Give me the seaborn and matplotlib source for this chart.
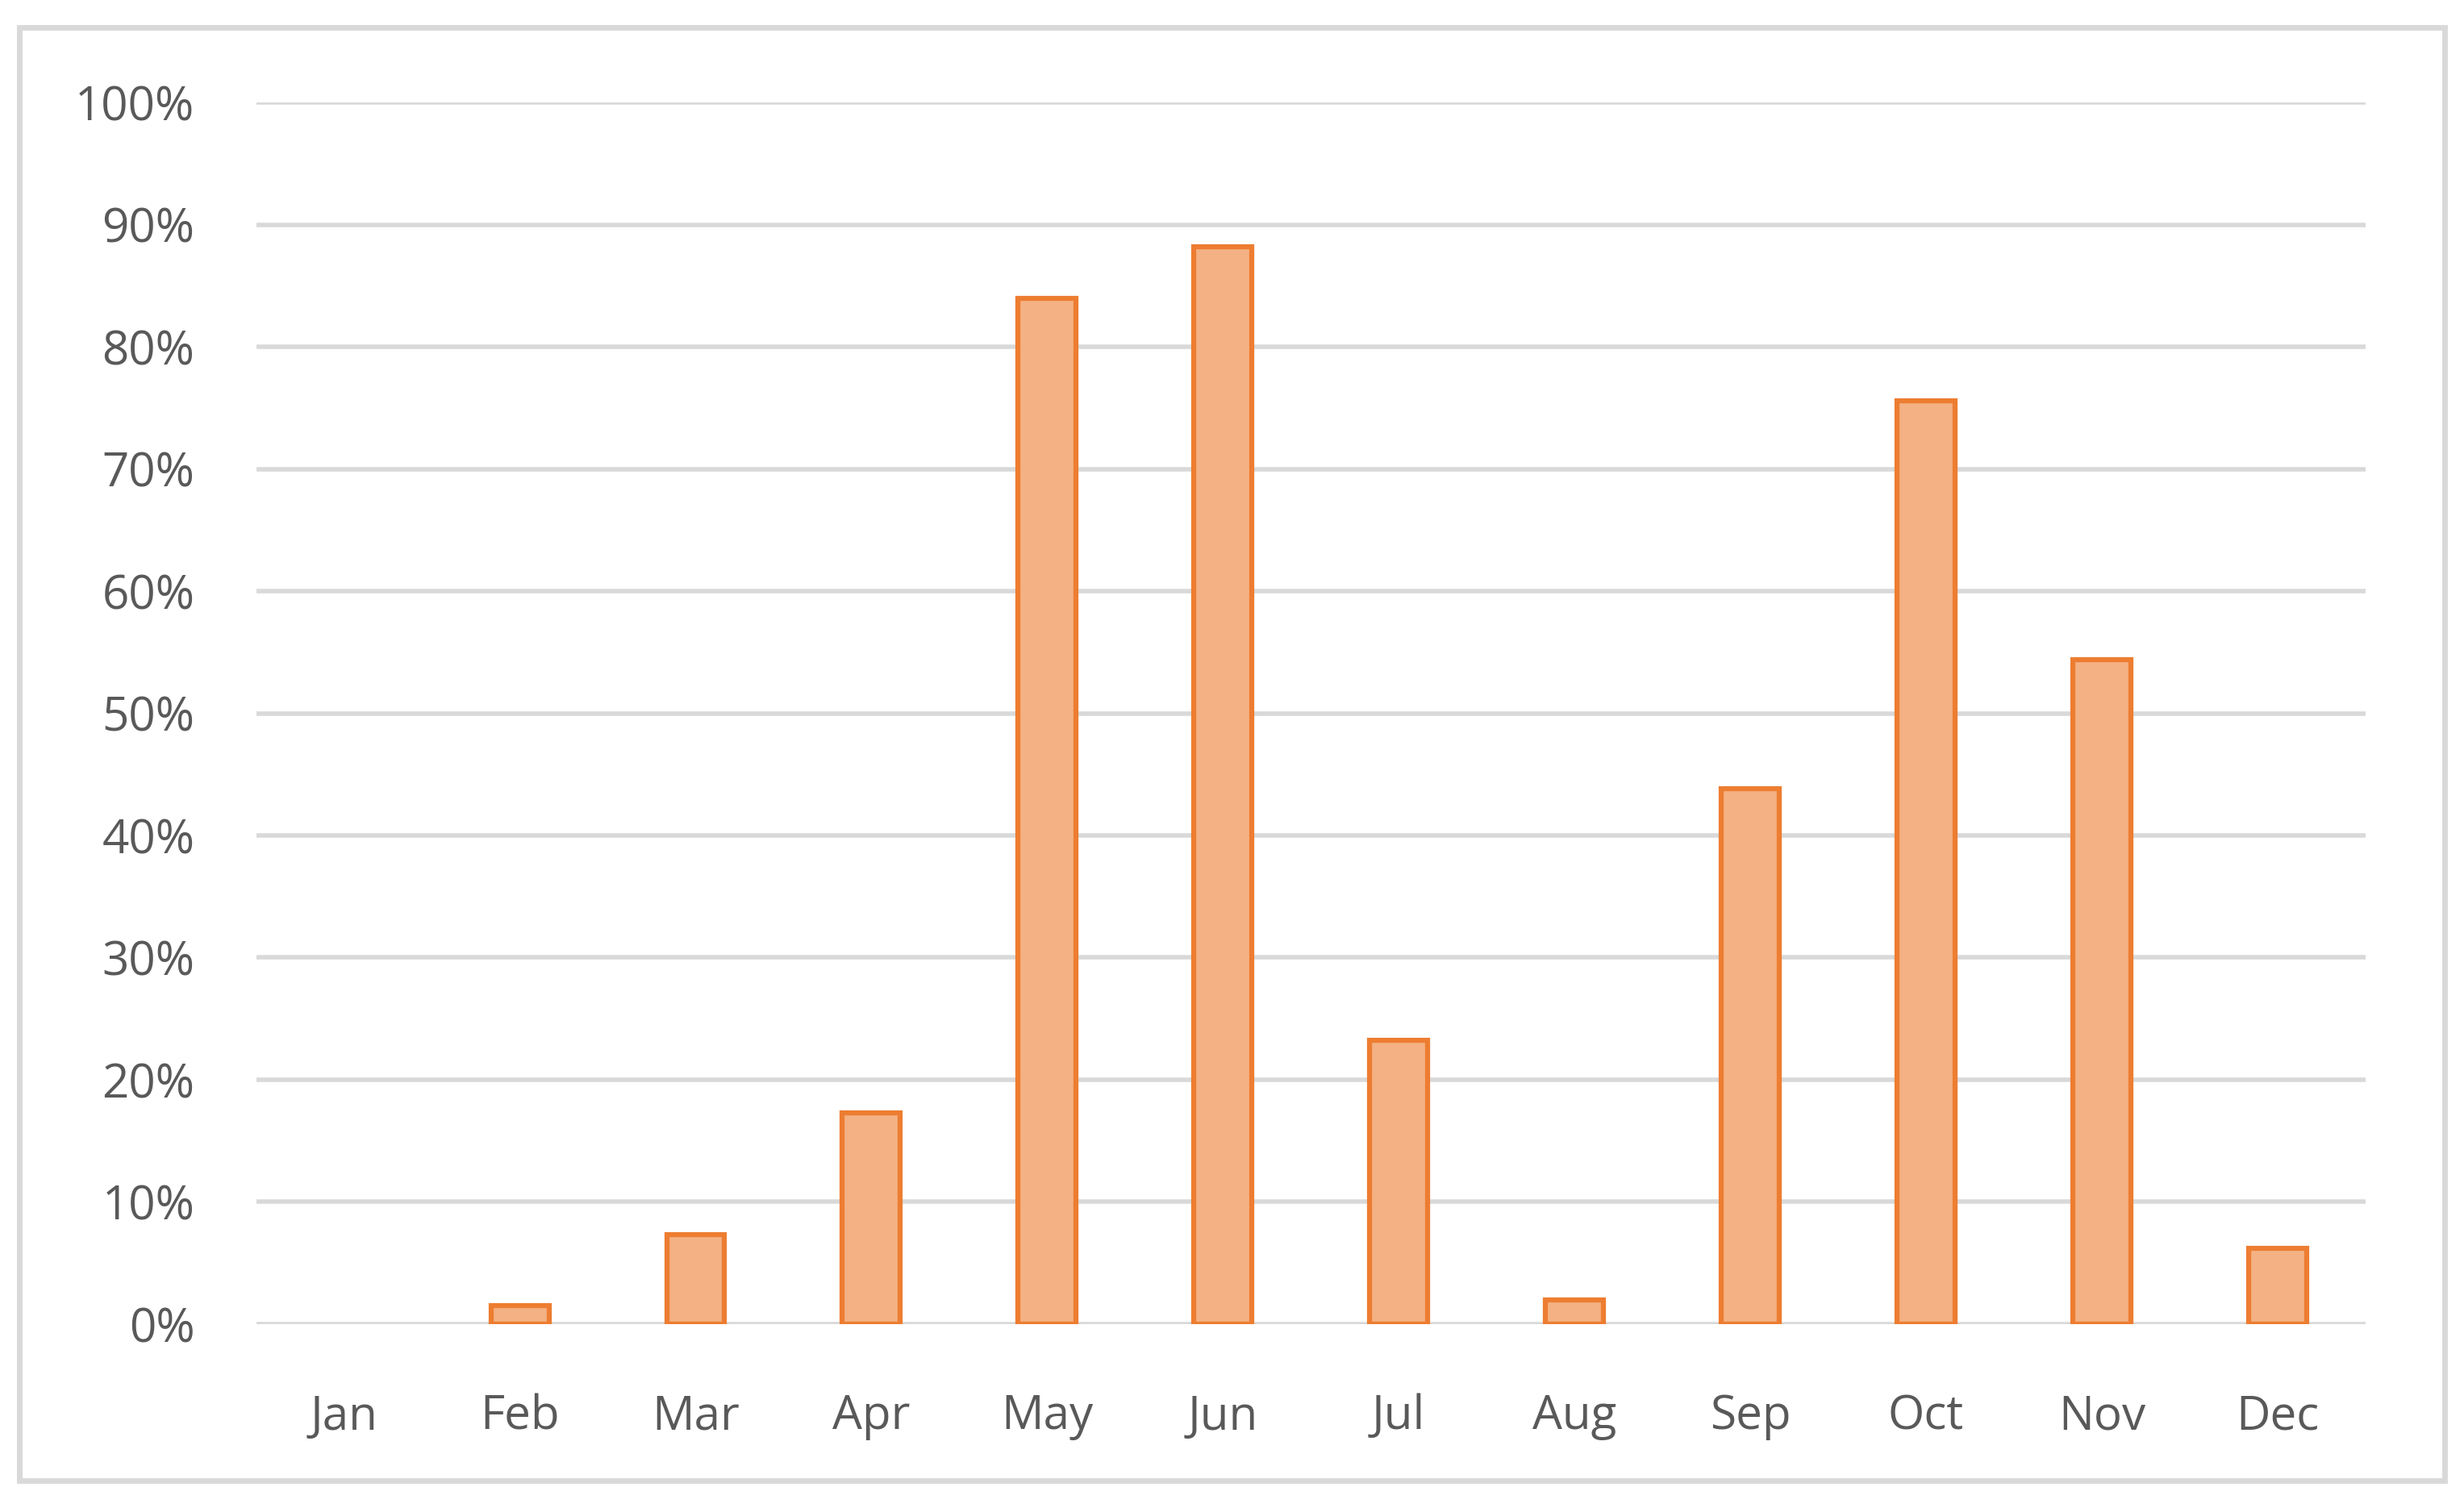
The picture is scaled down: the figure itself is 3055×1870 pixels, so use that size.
import matplotlib
matplotlib.use("Agg")
import matplotlib.pyplot as plt
import seaborn as sns
import pandas as pd
from matplotlib.patches import Rectangle

months = ["Jan", "Feb", "Mar", "Apr", "May", "Jun", "Jul", "Aug", "Sep", "Oct", "Nov", "Dec"]
values = [0, 1.5, 7.3, 17.3, 84.0, 88.2, 23.2, 2.0, 43.8, 75.6, 54.4, 6.2]
yticks = list(range(0, 101, 10))

df = pd.DataFrame({"month": months, "value": values})

sns.set_style("white")
plt.rcParams["font.family"] = ["Open Sans", "DejaVu Sans"]

fig = plt.figure(figsize=(30.55, 18.7), dpi=100)
ax = fig.add_axes([0.104, 0.122, 0.856, 0.81])

sns.barplot(data=df, x="month", y="value", ax=ax, width=0.33,
            color="#F4B183", edgecolor="#ED7D31", linewidth=4.5, saturation=1)

# zero-height bars draw nothing in the reference
for bar in ax.patches:
    if bar.get_height() == 0:
        bar.set_linewidth(0)

ax.set_ylim(0, 100)
ax.set_xlim(-0.5, 11.5)
ax.set_yticks(yticks)
ax.set_yticklabels([f"{t}%" for t in yticks])
ax.grid(axis="y", color="#D9D9D9", linewidth=4)
ax.set_axisbelow(True)
for s in ax.spines.values():
    s.set_visible(False)
ax.tick_params(axis="both", length=0, labelsize=42, labelcolor="#595959")
ax.tick_params(axis="x", pad=62)
ax.tick_params(axis="y", pad=55)
ax.set_xlabel("")
ax.set_ylabel("")

fig.patches.append(Rectangle((0.008, 0.018), 0.984, 0.964, transform=fig.transFigure,
                             fill=False, edgecolor="#D9D9D9", linewidth=5))

fig.savefig("out.png", dpi=100)
